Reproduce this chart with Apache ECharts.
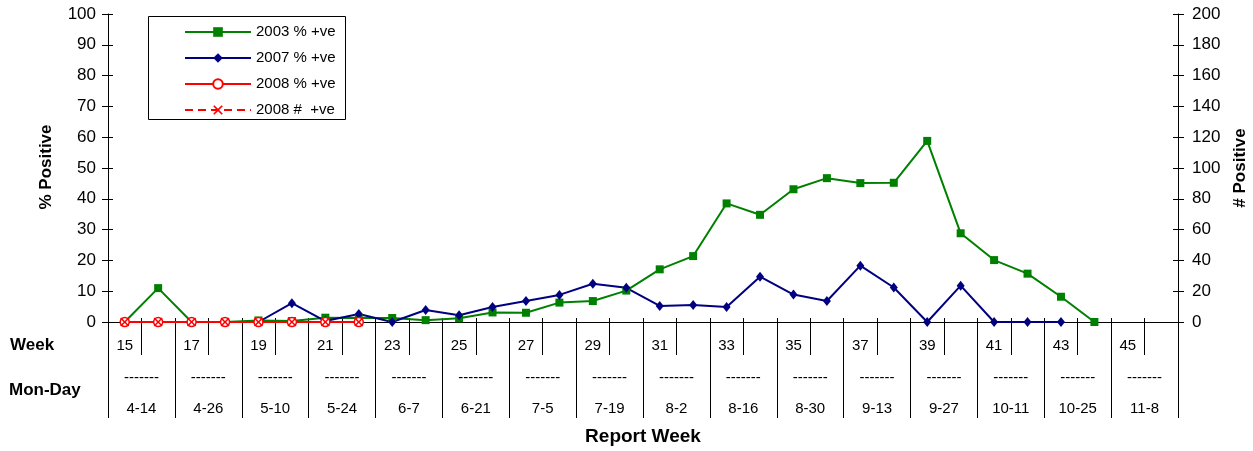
<!DOCTYPE html>
<html>
<head>
<meta charset="utf-8">
<script src="https://cdn.jsdelivr.net/npm/echarts@6/dist/echarts.min.js"></script>
<style>
html,body{margin:0;padding:0;background:#fff;}
#main{width:1253px;height:451px;}
</style>
</head>
<body>
<div id="main"></div>
<script>
var weeks = ['15','16','17','18','19','20','21','22','23','24','25','26','27','28','29','30','31','32','33','34','35','36','37','38','39','40','41','42','43','44','45','46'];
var monDay = ['4-14','4-26','5-10','5-24','6-7','6-21','7-5','7-19','8-2','8-16','8-30','9-13','9-27','10-11','10-25','11-8'];
var pct2003 = [0, 11, 0, 0, 0.5, 0.3, 1.4, 1.3, 1.3, 0.6, 1.2, 3.1, 3.0, 6.3, 6.8, 10.2, 17.1, 21.4, 38.5, 34.8, 43.1, 46.7, 45.1, 45.2, 58.8, 28.8, 20.1, 15.7, 8.2, 0, null, null];
var pct2007 = [0, 0, 0, 0, 0, 6.1, 0.3, 2.6, 0, 3.9, 2.2, 4.9, 6.8, 8.8, 12.4, 11.1, 5.2, 5.5, 4.9, 14.7, 8.9, 6.8, 18.3, 11.2, 0, 11.8, 0, 0, 0, null, null, null];
var pct2008 = [0, 0, 0, 0, 0, 0, 0, 0, null, null, null, null, null, null, null, null, null, null, null, null, null, null, null, null, null, null, null, null, null, null, null, null];
var num2008 = [0, 0, 0, 0, 0, 0, 0, 0, null, null, null, null, null, null, null, null, null, null, null, null, null, null, null, null, null, null, null, null, null, null, null, null];

var FONT = 'Liberation Sans, Arial, sans-serif';
var xPath = 'path://M0,1.2 L1.2,0 L5,3.8 L8.8,0 L10,1.2 L6.2,5 L10,8.8 L8.8,10 L5,6.2 L1.2,10 L0,8.8 L3.8,5 Z';

var chart = echarts.init(document.getElementById('main'), null, {renderer:'canvas'});
var option = {
  animation: false,
  backgroundColor: '#fff',
  textStyle: {fontFamily: FONT, color: '#000'},
  grid: {left: 108, right: 75, top: 14, bottom: 129, containLabel: false},
  legend: {
    orient: 'vertical',
    left: 179, top: 19,
    itemWidth: 66, itemHeight: 12, itemGap: 10,
    textStyle: {fontFamily: FONT, fontSize: 15, color: '#000', lineHeight: 16},
    data: ['2003 % +ve', '2007 % +ve', '2008 % +ve', '2008 #  +ve']
  },
  graphic: [
    {type: 'rect', left: 148, top: 16, z: -1, shape: {width: 197, height: 103}, style: {fill: '#fff', stroke: '#000', lineWidth: 1}},
    {type: 'text', left: 10, top: 337, style: {text: 'Week', font: 'bold 17px ' + FONT, fill: '#000'}},
    {type: 'text', left: 9, top: 382, style: {text: 'Mon-Day', font: 'bold 17px ' + FONT, fill: '#000'}},
    {type: 'text', x: 643, y: 437, style: {text: 'Report Week', font: 'bold 19px ' + FONT, fill: '#000', align: 'center', verticalAlign: 'middle'}},
    {type: 'text', x: 46, y: 167, rotation: Math.PI / 2, style: {text: '% Positive', font: 'bold 17px ' + FONT, fill: '#000', align: 'center', verticalAlign: 'middle'}},
    {type: 'text', x: 1240, y: 168, rotation: Math.PI / 2, style: {text: '# Positive', font: 'bold 17px ' + FONT, fill: '#000', align: 'center', verticalAlign: 'middle'}}
  ],
  xAxis: [
    {
      type: 'category', data: weeks, position: 'bottom', boundaryGap: true,
      axisLine: {show: true, lineStyle: {color: '#000', width: 1}},
      axisTick: {show: true, interval: 0, length: 33, lineStyle: {color: '#000'}},
      axisLabel: {interval: 0, margin: 16, fontSize: 15, fontFamily: FONT, color: '#000',
        formatter: function (v, i) { return (i % 2 === 0) ? v : ''; }},
      splitLine: {show: false}
    },
    {
      type: 'category', data: monDay, position: 'bottom', boundaryGap: true,
      axisLine: {show: false},
      axisTick: {show: true, interval: 0, length: 96, lineStyle: {color: '#000'}},
      axisLabel: {interval: 0, margin: 48, fontSize: 15, lineHeight: 15.5, fontFamily: FONT, color: '#000',
        formatter: function (v) { return '-------\n\n' + v; }},
      splitLine: {show: false}
    },
    {
      type: 'category', data: weeks, position: 'bottom', boundaryGap: true,
      axisLine: {show: false},
      axisTick: {show: true, interval: 0, inside: true, length: 4, lineStyle: {color: '#000'}},
      axisLabel: {show: false},
      splitLine: {show: false}
    }
  ],
  yAxis: [
    {
      type: 'value', position: 'left', min: 0, max: 100, interval: 10,
      axisLine: {show: true, lineStyle: {color: '#000'}},
      axisTick: {show: true, length: 6, lineStyle: {color: '#000'}},
      axisLabel: {margin: 12, fontSize: 17, fontFamily: FONT, color: '#000'},
      splitLine: {show: false}
    },
    {
      type: 'value', position: 'right', min: 0, max: 200, interval: 20,
      axisLine: {show: true, lineStyle: {color: '#000'}},
      axisTick: {show: true, length: 6, lineStyle: {color: '#000'}},
      axisLabel: {margin: 14, fontSize: 17, fontFamily: FONT, color: '#000'},
      splitLine: {show: false}
    },
    {
      type: 'value', position: 'left', min: 0, max: 100, interval: 10,
      axisLine: {show: false},
      axisTick: {show: true, inside: true, length: 5, lineStyle: {color: '#000'}},
      axisLabel: {show: false}, splitLine: {show: false}
    },
    {
      type: 'value', position: 'right', min: 0, max: 200, interval: 20,
      axisLine: {show: false},
      axisTick: {show: true, inside: true, length: 5, lineStyle: {color: '#000'}},
      axisLabel: {show: false}, splitLine: {show: false}
    }
  ],
  series: [
    {
      name: '2003 % +ve', type: 'line', xAxisIndex: 0, yAxisIndex: 0, data: pct2003,
      symbol: 'rect', symbolSize: 8, connectNulls: false,
      lineStyle: {color: '#008000', width: 2},
      itemStyle: {color: '#008000'}
    },
    {
      name: '2007 % +ve', type: 'line', xAxisIndex: 0, yAxisIndex: 0, data: pct2007,
      symbol: 'diamond', symbolSize: [8, 10],
      lineStyle: {color: '#000080', width: 2},
      itemStyle: {color: '#000080'}
    },
    {
      name: '2008 % +ve', type: 'line', xAxisIndex: 0, yAxisIndex: 0, data: pct2008,
      symbol: 'circle', symbolSize: 9,
      lineStyle: {color: '#ff0000', width: 2},
      itemStyle: {color: '#fff', borderColor: '#ff0000', borderWidth: 1.5}
    },
    {
      name: '2008 #  +ve', type: 'line', xAxisIndex: 0, yAxisIndex: 1, data: num2008,
      symbol: xPath, symbolSize: 9,
      lineStyle: {color: '#ff0000', width: 2, type: [8, 5]},
      itemStyle: {color: '#ff0000'}
    }
  ]
};
chart.setOption(option);
</script>
</body>
</html>
